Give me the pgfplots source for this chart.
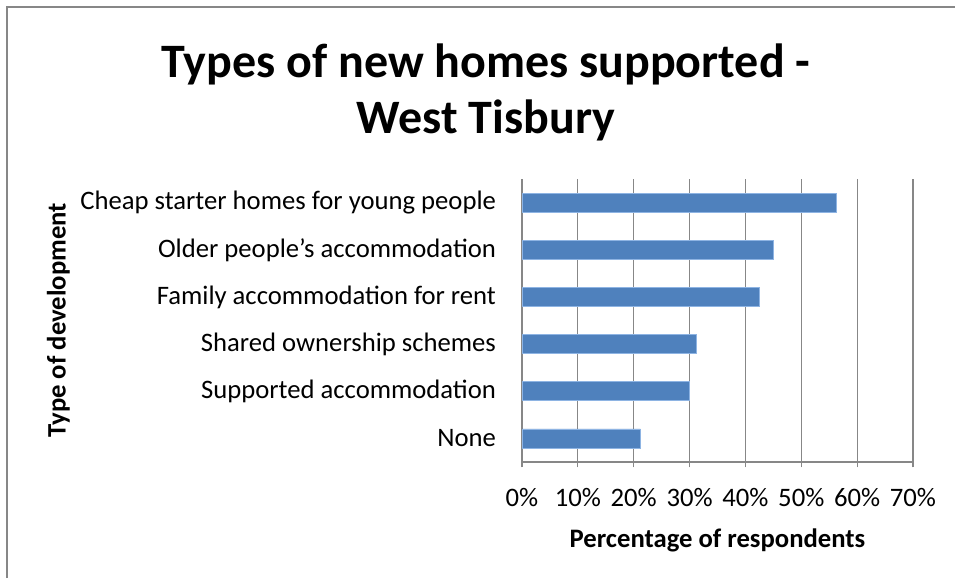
\documentclass[border=0pt]{standalone}
\usepackage{fontspec}
\setmainfont{Carlito}
\usepackage{pgfplots}
\pgfplotsset{compat=1.18}

\definecolor{barblue}{HTML}{4F81BD}
\definecolor{baredge}{HTML}{8EB4E3}
\definecolor{gridgray}{HTML}{878787}

\begin{document}
\begin{tikzpicture}[x=0.75pt,y=0.75pt]
\useasboundingbox (0,0) rectangle (955,578);
% outer chart frame (left and top visible)
\draw[gridgray, line width=1pt] (7,0) -- (7,571) -- (955,571);

\node[font=\fontsize{36}{42}\selectfont\bfseries, align=center] at (486,486)
  {Types of new homes supported -\\West Tisbury};

\begin{axis}[
  at={(391.5pt,87pt)}, anchor=south west,
  scale only axis,
  width=293.25pt, height=212.25pt,
  xbar, bar width=14.25pt,
  xmin=0, xmax=0.7,
  ymin=-0.5, ymax=5.5,
  axis x line=bottom, axis y line=left,
  axis line style={gridgray, line width=0.8pt, -},
  xtick={0,0.1,...,0.7},
  xticklabels={0\%,10\%,20\%,30\%,40\%,50\%,60\%,70\%},
  xmajorgrids, grid style={gridgray, line width=0.8pt},
  tick align=outside,
  major tick length=4pt,
  tick style={gridgray, line width=0.8pt},
  ytick={0,...,5},
  yticklabels={None,Supported accommodation,Shared ownership schemes,Family accommodation for rent,Older people’s accommodation,Cheap starter homes for young people},
  y tick style={draw=none},
  minor ytick={-0.5,0.5,...,5.5},
  minor tick length=4pt,
  minor y tick style={gridgray, line width=0.8pt},
  ticklabel style={font=\fontsize{20}{24}\selectfont},
  yticklabel style={xshift=-12pt},
  xticklabel style={yshift=-12pt},
  xlabel={Percentage of respondents},
  ylabel={Type of development},
  xlabel style={font=\fontsize{20}{24}\selectfont\bfseries, yshift=-10pt},
  ylabel style={font=\fontsize{20}{24}\selectfont\bfseries, yshift=1pt},
  clip=false,
]
\addplot[fill=barblue, draw=baredge, line width=0.6pt] coordinates {
  (0.212,0) (0.300,1) (0.312,2) (0.425,3) (0.450,4) (0.562,5)
};
\end{axis}
\end{tikzpicture}
\end{document}
